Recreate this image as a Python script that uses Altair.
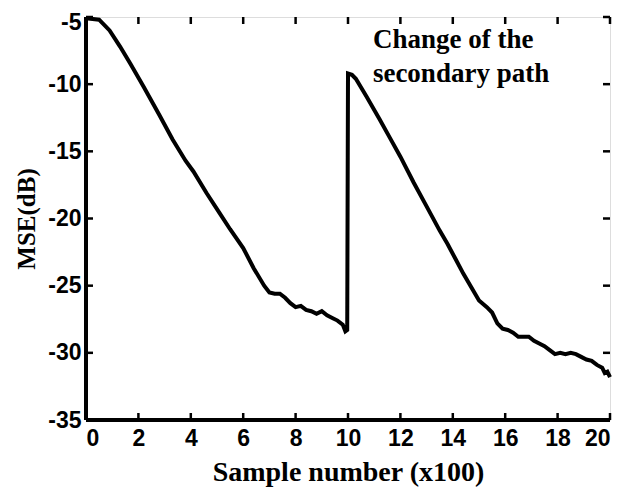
import altair as alt
import pandas as pd

sample_x = [0, 0.5, 0.9, 1.3, 1.7, 2.2, 2.8, 3.3, 3.8, 4.1, 4.6, 5.1, 5.5, 6.0, 6.4, 6.8,
            7.0, 7.2, 7.4, 7.6, 7.8, 8.0, 8.2, 8.4, 8.6, 8.8, 9.0, 9.2, 9.4, 9.6, 9.8, 9.9, 9.97,
            10.0, 10.15, 10.3, 10.7, 11.2, 11.6, 12.0, 12.5, 13.0, 13.5, 13.8, 14.1,
            14.4, 14.7, 15.0, 15.3, 15.5, 15.7, 15.9, 16.1, 16.3, 16.5, 16.7, 16.9,
            17.1, 17.3, 17.5, 17.7, 17.9, 18.1, 18.3, 18.5, 18.7, 18.9, 19.1, 19.3,
            19.5, 19.7, 19.8, 19.9, 20.0]
mse_db = [-5.1, -5.2, -6.0, -7.2, -8.5, -10.2, -12.3, -14.1, -15.7, -16.5, -18.1, -19.6,
          -20.8, -22.2, -23.7, -25.0,
          -25.5, -25.6, -25.6, -25.9, -26.3, -26.6, -26.5, -26.8, -26.9, -27.1, -26.9, -27.2,
          -27.4, -27.6, -27.9, -28.4, -28.3,
          -9.2, -9.3, -9.6, -10.9, -12.6, -14.0, -15.4, -17.3, -19.1, -20.9, -21.9, -23.0,
          -24.1, -25.1, -26.1, -26.6, -27.0, -27.8, -28.2, -28.3, -28.5, -28.8, -28.8, -28.8,
          -29.1, -29.3, -29.5, -29.8, -30.1, -30.0, -30.1, -30.0, -30.1, -30.3, -30.5, -30.6,
          -30.9, -31.1, -31.5, -31.4, -31.8]

x_ticks = [0, 2, 4, 6, 8, 10, 12, 14, 16, 18, 20]
y_ticks = [-35, -30, -25, -20, -15, -10, -5]
annotation = ["Change of the", "secondary path"]

W, H = 524, 403
TICK = 7

df = pd.DataFrame({"x": sample_x, "y": mse_db})
xt = pd.DataFrame({"t": x_ticks})
yt = pd.DataFrame({"t": y_ticks})

xs = alt.Scale(domain=[0, 20], nice=False)
ys = alt.Scale(domain=[-35, -5], nice=False)

line = alt.Chart(df).mark_line(color="black", strokeWidth=4).encode(
    x=alt.X("x:Q", scale=xs, title="Sample number (x100)",
            axis=alt.Axis(values=x_ticks, ticks=False, grid=False, domain=False,
                          labelExpr="'' + datum.value",
                          labelFont="Liberation Sans", labelFontWeight="bold",
                          labelFontSize=23, labelColor="black", labelPadding=7,
                          titleFont="Liberation Serif", titleFontWeight="bold",
                          titleFontSize=28, titleColor="black", titlePadding=8)),
    y=alt.Y("y:Q", scale=ys, title="MSE(dB)",
            axis=alt.Axis(values=y_ticks, ticks=False, grid=False, domain=False,
                          labelExpr="'' + datum.value",
                          labelBaseline="middle",
                          labelOffset={"condition": {"test": "datum.value == -5", "value": 5},
                                       "value": 0},
                          labelFont="Liberation Sans", labelFontWeight="bold",
                          labelFontSize=23, labelColor="black", labelPadding=5,
                          titleFont="Liberation Serif", titleFontWeight="bold",
                          titleFontSize=25, titleColor="black", titlePadding=8)),
)

tick_style = dict(color="black", strokeWidth=2.5)
xb = alt.Chart(xt).mark_rule(**tick_style).encode(
    x=alt.X("t:Q", scale=xs), y=alt.value(H), y2=alt.value(H - TICK))
xtp = alt.Chart(xt).mark_rule(**tick_style).encode(
    x=alt.X("t:Q", scale=xs), y=alt.value(0), y2=alt.value(TICK))
yl = alt.Chart(yt).mark_rule(**tick_style).encode(
    y=alt.Y("t:Q", scale=ys), x=alt.value(0), x2=alt.value(TICK))
yr = alt.Chart(yt).mark_rule(**tick_style).encode(
    y=alt.Y("t:Q", scale=ys), x=alt.value(W), x2=alt.value(W - TICK))

frame_l = alt.Chart(xt).mark_rule(color="black", strokeWidth=4).encode(
    x=alt.value(0), y=alt.value(0), y2=alt.value(H))
frame_b = alt.Chart(xt).mark_rule(color="black", strokeWidth=4).encode(
    x=alt.value(0), x2=alt.value(W), y=alt.value(H))

ann = alt.Chart(pd.DataFrame({"x": [10.95], "y": [-7.31], "t": [annotation]})).mark_text(
    font="Liberation Serif", fontWeight="bold", fontSize=27, color="black",
    align="left", baseline="alphabetic", lineHeight=34).encode(
    x=alt.X("x:Q", scale=xs), y=alt.Y("y:Q", scale=ys), text="t:N")

chart = alt.layer(line, xb, xtp, yl, yr, frame_l, frame_b, ann).properties(
    width=W, height=H,
    autosize=alt.AutoSizeParams(type="none"),
    padding={"left": 78, "top": 9, "right": 12, "bottom": 76},
).configure_view(stroke="black", strokeWidth=3).configure(background="white")

chart.save("out.html", embed_options={"renderer": "svg", "actions": False})
